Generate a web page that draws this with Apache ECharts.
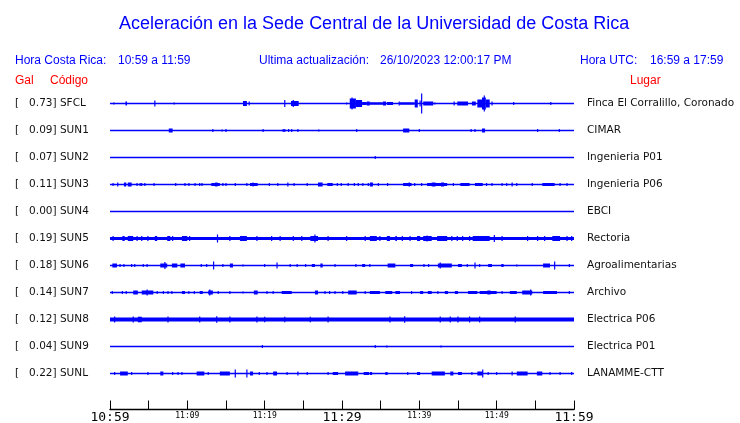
<!DOCTYPE html>
<html><head><meta charset="utf-8">
<script src="https://cdn.jsdelivr.net/npm/echarts@6/dist/echarts.min.js"></script>
<style>html,body{margin:0;padding:0;background:#fff}#c{width:740px;height:423px}</style>
</head><body><div id="c"></div>
<script>
// ---- data ----
const codes = ['SFCL','SUN1','SUN2','SUN3','SUN4','SUN5','SUN6','SUN7','SUN8','SUN9','SUNL'];
const places = ['Finca El Corralillo, Coronado','CIMAR','Ingenieria P01','Ingenieria P06','EBCI','Rectoria','Agroalimentarias','Archivo','Electrica P06','Electrica P01','LANAMME-CTT'];
const galMax = [0.73,0.09,0.07,0.11,0.00,0.19,0.18,0.14,0.12,0.04,0.22];
const tickLabels = ['10:59','','11:09','','11:19','','11:29','','11:39','','11:49','','11:59'];
// background noise level per trace (relative amplitude)
const noise = [0.75,0.75,0.7,0.75,0.7,1.6,0.75,0.75,2.0,0.7,0.75];
// events: [start minute, end minute, relative amplitude]
const evSFCL = [[0.5,0.5,1],[2.0,2.2,2],[5.8,5.8,3],[8.3,8.3,1],[17.2,17.7,2.5],[18.0,18.0,2],[22.6,22.6,3.5],[23.4,24.4,2.5],[23.7,23.7,3.5],[30.6,30.6,1],[31.0,31.8,5],[31.3,31.3,6],[31.8,32.6,3.5],[32.6,33.2,1.5],[33.2,33.6,2],[33.6,35.3,1.2],[35.3,35.7,2],[35.8,36.6,1.5],[37.4,37.4,2],[37.5,39.4,1.2],[39.4,39.8,4],[40.1,40.1,3],[40.3,40.3,10],[40.5,41.8,2],[42.0,42.0,1],[44.5,44.5,2],[44.9,46.3,2],[46.8,47.3,2],[47.5,48.1,4],[48.1,48.6,6],[48.4,48.4,8],[48.6,49.1,4],[49.4,49.4,2],[52.2,52.2,1.5],[57.0,57.0,1.5]];
const evSUN1 = [[7.6,8.1,2],[13.3,13.3,1.5],[14.5,14.5,1],[15.0,15.0,1.5],[19.8,19.8,1.5],[22.4,22.4,1.5],[22.6,22.6,1.5],[23.1,23.1,1.5],[23.5,23.5,1.5],[24.3,24.3,1.5],[27.0,27.0,1],[31.9,31.9,1.5],[37.9,38.7,2],[40.0,40.0,1.5],[46.7,46.7,1.5],[47.2,47.2,1.5],[48.1,48.5,2],[55.3,55.3,1.5],[58.1,58.1,1.5]];
const evSUN2 = [[34.3,34.3,1.5]];
const evSUN3 = [[0.4,0.4,1.5],[1.0,1.0,2],[1.8,2.1,2],[2.3,2.8,2],[3.5,3.5,1.5],[3.9,3.9,1.5],[4.1,4.1,1.5],[4.5,4.5,1.5],[5.7,5.7,1.5],[8.5,8.5,1.5],[9.7,9.7,1.5],[10.2,10.2,1.5],[11.0,11.0,1.5],[11.6,11.6,1.5],[11.9,11.9,1.5],[13.1,14.2,1.5],[13.6,13.9,2],[14.6,14.6,1.5],[15.0,15.0,1.5],[16.2,16.2,1.5],[17.7,17.7,1.5],[18.1,19.1,1.5],[18.5,18.6,2],[20.6,20.6,1.5],[21.7,21.7,1.5],[23.0,23.0,2],[23.8,23.8,1.5],[25.5,25.5,1.5],[26.9,27.5,2],[28.1,28.8,1.5],[29.4,29.4,1.5],[29.9,29.9,1.5],[30.8,30.8,1.5],[31.6,31.6,1.5],[32.1,32.1,1.5],[32.7,32.7,1.5],[33.4,33.4,1.5],[33.6,34.0,2],[34.7,34.7,1.5],[35.9,35.9,1.5],[37.9,39.0,1.5],[38.6,38.8,2],[39.4,39.4,1.5],[40.3,40.3,1.5],[41.0,43.6,1.5],[41.6,42.1,2],[42.8,43.2,2],[44.4,44.4,1.5],[45.3,46.5,1.5],[47.2,48.2,1.5],[48.7,48.7,1.5],[49.4,49.4,1.5],[50.7,50.7,1.5],[51.3,51.3,1.5],[52.0,52.0,2],[52.6,52.6,1.5],[54.6,54.6,1.5],[55.9,57.5,1.5],[58.2,58.2,1.5],[59.1,59.1,1.5]];
const evSUN4 = [];
const evSUN5 = [[0.4,0.4,2.5],[1.6,1.9,2.5],[2.3,3.0,2.5],[3.5,3.5,2.5],[4.1,4.1,2.5],[4.9,4.9,2.5],[5.8,6.1,2.5],[7.4,7.8,2.5],[8.1,8.1,2.5],[9.3,10.0,2.5],[10.3,10.3,2.5],[13.9,13.9,4],[15.5,15.5,2.5],[16.8,17.7,2.5],[19.0,19.0,2.5],[20.9,20.9,2.5],[22.0,22.0,2.5],[23.7,23.7,2.5],[24.8,24.8,2.5],[25.9,26.9,2.5],[26.5,26.5,4],[28.2,28.2,2.5],[30.6,30.6,2.5],[33.0,33.0,2.5],[33.6,34.5,2.5],[34.9,34.9,2.5],[35.8,36.2,2.5],[36.9,37.1,2.5],[37.8,37.9,2.5],[38.8,38.8,2.5],[39.7,40.1,2.5],[40.5,41.6,2.5],[41.0,41.0,3],[42.3,43.6,2.5],[44.2,44.2,2.5],[44.9,44.9,2.5],[45.6,45.6,2.5],[46.5,46.5,2.5],[46.9,49.1,2.5],[49.7,49.7,3.5],[50.7,50.7,2.5],[54.0,54.0,2.5],[55.3,55.3,2.5],[56.2,56.2,2.5],[57.2,58.2,2.5],[59.1,59.1,2.5],[59.7,59.7,2.5]];
const evSUN6 = [[0.3,0.9,2],[1.3,1.3,1.5],[1.8,1.8,1.5],[2.8,2.8,1.5],[3.2,3.2,1.5],[4.3,4.3,1.5],[4.8,4.8,1.5],[6.5,7.4,2],[7.1,7.1,3.5],[8.0,8.7,2],[9.1,9.7,2],[11.8,11.8,1.5],[12.5,12.5,1.5],[13.4,13.4,4],[14.6,14.6,1.5],[15.5,15.9,2],[17.2,17.2,1],[20.0,20.0,1.5],[21.6,21.6,3],[23.3,23.3,1.5],[24.2,24.2,1.5],[25.3,25.3,1.5],[26.1,26.5,1.5],[27.2,27.5,2],[29.1,29.1,1.5],[31.8,31.8,1.5],[32.6,33.0,1.5],[33.6,33.6,1.5],[35.9,36.9,2],[38.8,39.2,1.5],[40.6,40.6,1.5],[41.2,41.2,1.5],[42.4,44.2,2],[42.7,42.7,3],[45.0,45.5,1.5],[46.2,46.2,1.5],[47.2,47.2,3],[47.8,47.8,1.5],[48.9,49.4,1.5],[50.6,50.9,1.5],[52.6,52.6,1],[56.0,56.9,2],[57.5,57.5,4],[59.4,59.4,1.5]];
const evSUN7 = [[0.3,0.3,1.5],[1.6,1.6,1.5],[2.1,2.1,1.5],[3.0,3.6,2],[4.1,5.6,2],[4.8,4.8,3],[6.1,6.1,1.5],[6.9,6.9,1.5],[7.5,7.5,1.5],[8.0,8.0,1.5],[9.3,9.7,1.5],[10.2,10.2,1.5],[10.9,10.9,1.5],[11.6,12.0,1.5],[12.7,13.3,2],[12.9,12.9,3],[14.0,14.0,1.5],[15.5,15.5,1.5],[17.2,17.2,1],[18.6,19.1,2],[20.3,20.3,1.5],[21.1,21.1,1.5],[22.2,23.5,1.5],[26.5,26.9,2],[27.8,27.8,1.5],[28.4,28.4,1.5],[29.1,29.1,1.5],[30.1,30.1,1.5],[30.8,31.9,2],[33.0,33.0,1.5],[33.6,34.9,1.5],[35.6,36.5,1.5],[36.9,37.5,1.5],[39.0,39.0,1.5],[40.1,40.5,1.5],[41.1,41.6,1.5],[42.4,42.4,1.5],[43.3,43.7,1.5],[44.6,45.0,1.5],[46.3,47.5,1.5],[47.8,50.0,1.5],[48.8,49.2,2],[50.7,50.7,1.5],[51.7,52.6,1.5],[53.3,54.6,2],[54.4,54.4,3],[56.0,57.8,1.5],[59.4,59.4,1.5]];
const evSUN8 = [[0.6,0.6,3],[3.0,3.0,3],[3.6,4.1,2.8],[7.5,7.5,3],[11.6,11.6,3],[13.8,13.8,3.2],[15.5,15.5,3],[19.0,19.0,3],[20.0,20.0,2.8],[22.6,22.6,2.8],[25.9,25.9,2.8],[28.2,28.2,3],[36.2,36.2,3],[38.1,38.1,3.2],[42.7,42.7,3],[44.0,44.0,3],[45.0,45.0,3],[46.5,46.5,3],[47.8,47.8,3],[52.4,52.4,3]];
const evSUN9 = [[19.7,19.7,1.5],[34.3,34.3,1.5],[35.8,35.8,1],[42.8,42.8,1]];
const evSUNL = [[0.6,0.6,1.5],[1.3,2.3,2],[2.8,2.8,1.5],[4.9,4.9,1.5],[6.5,6.9,2],[8.1,8.1,1.5],[8.8,8.8,1.5],[9.3,9.3,1.5],[11.2,12.2,2],[12.7,12.7,1.5],[14.2,15.5,2],[16.2,16.2,4],[17.7,17.7,4],[18.1,18.5,2],[19.3,19.3,1.5],[20.3,20.3,1.5],[21.1,21.6,2],[22.9,22.9,1.5],[24.3,24.3,2],[25.5,25.5,1.5],[28.2,28.2,1.5],[28.8,29.5,1.5],[30.4,32.1,2],[32.8,33.5,1.5],[33.6,33.9,1.5],[35.6,35.9,1.5],[38.5,38.5,1.5],[39.7,40.1,1.5],[41.6,43.3,2],[44.0,44.4,2],[45.0,45.5,1.5],[46.8,46.8,1.5],[47.5,48.2,2],[48.2,48.2,4],[48.9,48.9,1.5],[50.0,50.0,1.5],[52.0,52.1,2],[52.6,54.0,2],[55.2,55.9,2],[56.9,56.9,1.5],[58.2,58.2,1.5],[59.7,59.7,1.5]];
const events = [evSFCL,evSUN1,evSUN2,evSUN3,evSUN4,evSUN5,evSUN6,evSUN7,evSUN8,evSUN9,evSUNL];

// ---- chart ----
const BLUE = '#0000ff', RED = '#ff0000';
const chart = echarts.init(document.getElementById('c'));
const data = [];
events.forEach((ev, i) => {
  data.push([0, 60, noise[i], i]);
  ev.forEach(e => data.push([e[0], e[1], e[2], i]));
});
function renderItem(params, api) {
  const x0 = api.value(0), x1 = api.value(1), amp = api.value(2), row = api.value(3);
  const p0 = api.coord([x0, row]);
  const p1 = api.coord([x1, row]);
  const band = api.coord([0, 1])[1] - api.coord([0, 0])[1];
  const h = amp * band / 27;
  let w = p1[0] - p0[0], x = p0[0];
  if (w < 1) { x = p0[0] - 0.6; w = 1.2; }
  return { type: 'rect', shape: { x: x, y: p0[1] - h, width: w, height: 2 * h }, style: { fill: BLUE } };
}
const leftLabels = codes.map((c, i) => '[   ' + galMax[i].toFixed(2) + '] ' + c).concat(['']);
const rightLabels = places.concat(['']);
const txt = (t, x, y, color) => ({ type: 'text', left: x, top: y, style: { text: t, fill: color, font: '12px "Liberation Sans", Arial, sans-serif' } });
chart.setOption({
  animation: false,
  title: { text: 'Aceleración en la Sede Central de la Universidad de Costa Rica', left: 114, top: 10,
    textStyle: { color: BLUE, fontFamily: '"Liberation Sans", Arial, sans-serif', fontWeight: 'normal', fontSize: 18 } },
  graphic: [
    txt('Hora Costa Rica:', 15, 55, BLUE), txt('10:59 a 11:59', 118, 55, BLUE),
    txt('Ultima actualización:', 259, 55, BLUE), txt('26/10/2023 12:00:17 PM', 380, 55, BLUE),
    txt('Hora UTC:', 580, 55, BLUE), txt('16:59 a 17:59', 650, 55, BLUE),
    txt('Gal', 15, 75, RED), txt('Código', 50, 75, RED), txt('Lugar', 630, 75, RED)
  ],
  grid: { left: 110, right: 166, top: 90, bottom: 9, outerBoundsMode: 'none', containLabel: false },
  xAxis: {
    type: 'value', min: 0, max: 60, interval: 5, offset: -4.5,
    axisLine: { show: true, lineStyle: { color: '#000', width: 1.3 } },
    axisTick: { show: true, inside: true, length: 9, lineStyle: { color: '#000', width: 1 } },
    splitLine: { show: false },
    axisLabel: {
      margin: 2, showMinLabel: true, showMaxLabel: true, hideOverlap: false,
      formatter: v => { const k = Math.round(v / 5); const t = tickLabels[k] || ''; return t ? (k % 6 === 0 ? '{b|' + t + '}' : '{s|' + t + '}') : ''; },
      rich: {
        b: { fontFamily: '"DejaVu Sans Mono", monospace', fontSize: 13, color: '#000' },
        s: { fontFamily: '"DejaVu Sans Mono", monospace', fontSize: 8, color: '#000' }
      }
    }
  },
  yAxis: [
    { type: 'category', inverse: true, data: leftLabels, position: 'left',
      axisLine: { show: false }, axisTick: { show: false }, splitLine: { show: false },
      axisLabel: { align: 'left', margin: 95, fontFamily: '"DejaVu Sans", sans-serif', fontSize: 10.5, color: '#111', interval: 0 } },
    { type: 'category', inverse: true, data: rightLabels, position: 'right',
      axisLine: { show: false }, axisTick: { show: false }, splitLine: { show: false },
      axisLabel: { align: 'left', margin: 13, fontFamily: '"DejaVu Sans", sans-serif', fontSize: 10.5, color: '#111', interval: 0 } }
  ],
  series: [{
    type: 'custom', renderItem: renderItem, data: data, clip: false,
    encode: { x: [0, 1], y: 3 }, xAxisIndex: 0, yAxisIndex: 0
  }]
});
</script></body></html>
